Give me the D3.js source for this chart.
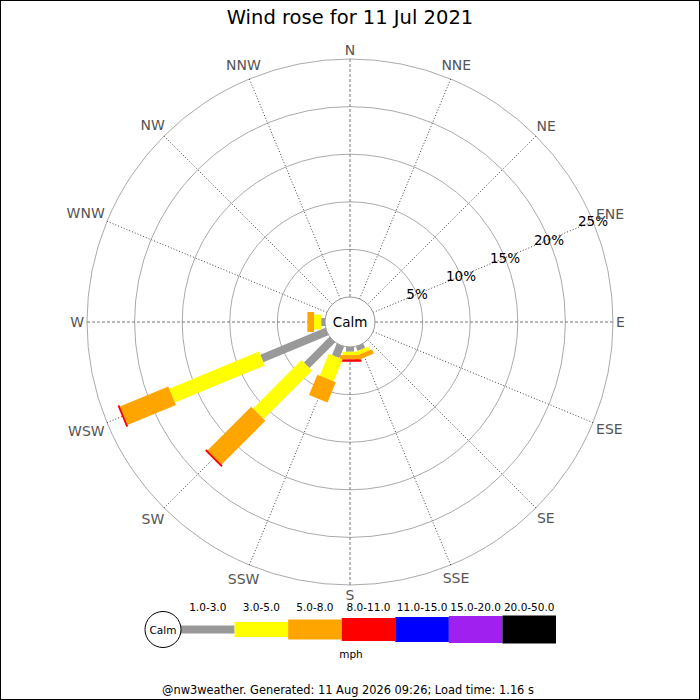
<!doctype html>
<html>
<head>
<meta charset="utf-8">
<style>
  body { margin: 0; background: #fff; }
  text { font-family: "DejaVu Sans", sans-serif; }
</style>
</head>
<body>
<div class="chart"></div>
<script src="https://d3js.org/d3.v7.min.js"></script>
<script>
// compass points, clockwise from north
const directions = ["N", "NNE", "NE", "ENE", "E", "ESE", "SE", "SSE",
  "S", "SSW", "SW", "WSW", "W", "WNW", "NW", "NNW"];

// speed bins (mph)
const speedRanges = ["1.0-3.0", "3.0-5.0", "5.0-8.0", "8.0-11.0", "11.0-15.0", "15.0-20.0", "20.0-50.0"];

// percent of time per direction for each speed bin
//                N  NNE NE ENE E ESE SE  SSE   S    SSW  SW   WSW   W    WNW NW NNW
const pct1to3   = [0, 0, 0, 0, 0, 0, 0, 0.5, 0.5,  1.3, 3.8, 7.4,  0.4,  0, 0, 0];
const pct3to5   = [0, 0, 0, 0, 0, 0, 0, 0.4, 0.35, 2.5, 7.2, 10.2, 0.75, 0, 0, 0];
const pct5to8   = [0, 0, 0, 0, 0, 0, 0, 0.5, 0.45, 2.3, 6.5, 5.5,  0.7,  0, 0, 0];
const pct8to11  = [0, 0, 0, 0, 0, 0, 0, 0,   0.25, 0,   0.2, 0.2,  0,    0, 0, 0];
const pct11to15 = [0, 0, 0, 0, 0, 0, 0, 0,   0,    0,   0,   0,    0,    0, 0, 0];
const pct15to20 = [0, 0, 0, 0, 0, 0, 0, 0,   0,    0,   0,   0,    0,    0, 0, 0];
const pct20to50 = [0, 0, 0, 0, 0, 0, 0, 0,   0,    0,   0,   0,    0,    0, 0, 0];

const ringTicks = [5, 10, 15, 20, 25];

const title = "Wind rose for 11 Jul 2021";
const footer = "@nw3weather. Generated: 11 Aug 2026 09:26; Load time: 1.16 s";

// styling
const binColors = ["#999999", "#ffff00", "#ffa500", "#ff0000", "#0000ff", "#a020f0", "#000000"];
const binWidths = [8, 15, 20, 23, 25, 27, 28];

const series = [pct1to3, pct3to5, pct5to8, pct8to11, pct11to15, pct15to20, pct20to50];

const width = 700, height = 700;
const cx = 350, cy = 322;
const calmR = 25, outerR = 263;

const svg = d3.select(".chart").append("svg")
  .attr("width", width)
  .attr("height", height);

svg.append("rect")
  .attr("x", 0.5).attr("y", 0.5)
  .attr("width", width - 1).attr("height", height - 1)
  .attr("fill", "#fff").attr("stroke", "#000");

// radius scale: percent -> pixels, starting at the calm circle
const r = d3.scaleLinear().domain([0, 25]).range([calmR, outerR]);

// angle per direction (degrees, clockwise from N)
const angle = d3.scaleLinear().domain([0, directions.length]).range([0, 360]);

const plot = svg.append("g").attr("transform", `translate(${cx},${cy})`);

// rings
plot.selectAll("circle.ring")
  .data(ringTicks)
  .join("circle")
  .attr("class", "ring")
  .attr("r", d => r(d))
  .attr("fill", "none")
  .attr("stroke", "#aaaaaa")
  .attr("stroke-width", 1);

// spokes
plot.selectAll("line.spoke")
  .data(directions)
  .join("line")
  .attr("class", "spoke")
  .attr("x1", (d, i) => calmR * Math.sin(angle(i) * Math.PI / 180))
  .attr("y1", (d, i) => -calmR * Math.cos(angle(i) * Math.PI / 180))
  .attr("x2", (d, i) => outerR * Math.sin(angle(i) * Math.PI / 180))
  .attr("y2", (d, i) => -outerR * Math.cos(angle(i) * Math.PI / 180))
  .attr("stroke", (d, i) => i % 4 === 0 ? "#777" : "#444")
  .attr("stroke-width", 1)
  .attr("stroke-dasharray", (d, i) => i % 4 === 0 ? "3,2" : "1,2");

// stacked bars
directions.forEach((dir, i) => {
  let cum = 0;
  const g = plot.append("g").attr("transform", `rotate(${angle(i)})`);
  series.forEach((vals, k) => {
    const v = vals[i];
    if (!v) return;
    const r0 = r(cum), r1 = r(cum + v);
    cum += v;
    g.append("rect")
      .attr("x", -binWidths[k] / 2)
      .attr("y", -r1)
      .attr("width", binWidths[k])
      .attr("height", r1 - r0)
      .attr("fill", binColors[k]);
  });
});

// calm circle
plot.append("circle")
  .attr("r", calmR)
  .attr("fill", "#fff")
  .attr("stroke", "#999")
  .attr("stroke-width", 1);
plot.append("text")
  .attr("text-anchor", "middle")
  .attr("dominant-baseline", "central")
  .attr("font-size", 13.5)
  .text("Calm");

// ring labels along ENE
const labelAng = angle(3) * Math.PI / 180;
plot.selectAll("text.ringlabel")
  .data(ringTicks)
  .join("text")
  .attr("class", "ringlabel")
  .attr("x", d => r(d) * Math.sin(labelAng))
  .attr("y", d => -r(d) * Math.cos(labelAng))
  .attr("text-anchor", "middle")
  .attr("dominant-baseline", "central")
  .attr("font-size", 13.5)
  .attr("fill", "#000")
  .text(d => d + "%");

// compass labels just outside the outer ring
plot.selectAll("text.dir")
  .data(directions)
  .join("text")
  .attr("class", "dir")
  .attr("text-anchor", "middle")
  .attr("dominant-baseline", "central")
  .attr("font-size", 14)
  .attr("fill", "#555")
  .text(d => d)
  .each(function(d, i) {
    const a = angle(i) * Math.PI / 180;
    const w = this.getComputedTextLength();
    const rr = outerR + 3 + Math.abs(Math.sin(a)) * w / 2 + Math.abs(Math.cos(a)) * 6.5;
    d3.select(this)
      .attr("x", rr * Math.sin(a))
      .attr("y", -rr * Math.cos(a));
  });

// title
svg.append("text")
  .attr("x", cx).attr("y", 17)
  .attr("text-anchor", "middle")
  .attr("dominant-baseline", "central")
  .attr("font-size", 19.5)
  .text(title);

// legend
const legendY = 629.5;
const lx = d3.scaleBand().domain(speedRanges).range([181, 556]);

const legend = svg.append("g");
legend.selectAll("rect")
  .data(speedRanges)
  .join("rect")
  .attr("x", d => lx(d))
  .attr("y", (d, k) => legendY - binWidths[k] / 2)
  .attr("width", lx.bandwidth())
  .attr("height", (d, k) => binWidths[k])
  .attr("fill", (d, k) => binColors[k]);

legend.selectAll("text.bin")
  .data(speedRanges)
  .join("text")
  .attr("class", "bin")
  .attr("x", d => lx(d) + lx.bandwidth() / 2)
  .attr("y", 607)
  .attr("text-anchor", "middle")
  .attr("dominant-baseline", "central")
  .attr("font-size", 10.5)
  .text(d => d);

legend.append("circle")
  .attr("cx", 163).attr("cy", legendY)
  .attr("r", 18)
  .attr("fill", "#fff")
  .attr("stroke", "#000");
legend.append("text")
  .attr("x", 163).attr("y", legendY)
  .attr("text-anchor", "middle")
  .attr("dominant-baseline", "central")
  .attr("font-size", 10.5)
  .text("Calm");

legend.append("text")
  .attr("x", 351).attr("y", 654)
  .attr("text-anchor", "middle")
  .attr("dominant-baseline", "central")
  .attr("font-size", 10.5)
  .text("mph");

// footer
svg.append("text")
  .attr("x", 348).attr("y", 690)
  .attr("text-anchor", "middle")
  .attr("dominant-baseline", "central")
  .attr("font-size", 11.4)
  .text(footer);
</script>
</body>
</html>
